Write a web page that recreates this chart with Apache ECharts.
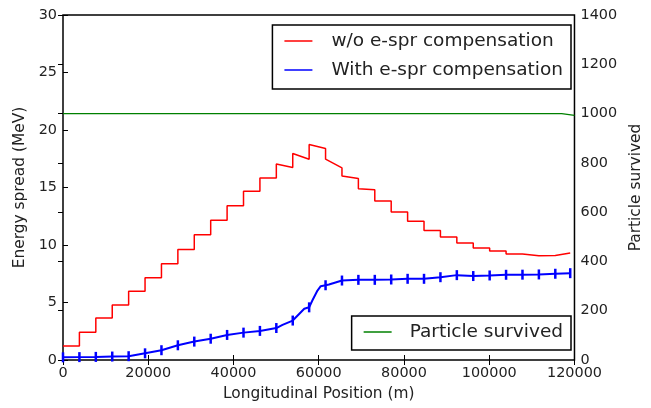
<!DOCTYPE html>
<html>
<head>
<meta charset="utf-8">
<script src="https://cdn.jsdelivr.net/npm/echarts@6/dist/echarts.min.js"></script>
<style>
  html, body { margin: 0; padding: 0; background: #fff; }
  #chart { width: 651px; height: 408px; }
</style>
</head>
<body>
<div id="chart"></div>
<script>
// step edges along the beamline (m)
const stepEdges = [0, 3850, 7700, 11550, 15400, 19250, 23100, 26950, 30800, 34650,
  38500, 42350, 46200, 50050, 53900, 57750, 61600, 65450, 69300, 73150,
  77000, 80850, 84700, 88550, 92400, 96250, 100100, 103950, 107800, 111650,
  115500, 119000];

// w/o compensation: level at start and end of each step (MeV)
const redStart = [1.22, 2.41, 3.65, 4.78, 5.98, 7.15, 8.37, 9.6, 10.9, 12.15,
  13.42, 14.67, 15.83, 17.05, 17.96, 18.74, 17.46, 16.0, 14.9, 13.83,
  12.87, 12.06, 11.27, 10.69, 10.17, 9.73, 9.47, 9.21, 9.07, 9.09, 9.18];
const redEnd = [1.22, 2.41, 3.65, 4.78, 5.98, 7.15, 8.37, 9.6, 10.9, 12.15,
  13.42, 14.67, 15.83, 16.74, 17.46, 18.4, 16.7, 15.78, 14.8, 13.83,
  12.87, 12.06, 11.27, 10.69, 10.17, 9.73, 9.47, 9.21, 9.07, 9.09, 9.3];

// with compensation (MeV)
const blueX = [0, 3850, 7700, 11550, 15400, 19250, 23100, 26950, 30800, 34650,
  38500, 42350, 46200, 50050, 51500, 53900, 55400, 56600, 57750, 58500,
  59700, 60470, 61600, 62400, 64700, 65450, 69300, 73150, 77000, 80850,
  84700, 88550, 92400, 96250, 100100, 103950, 107800, 111650, 115500, 119000];
const blueY = [0.23, 0.25, 0.27, 0.3, 0.33, 0.58, 0.85, 1.28, 1.6, 1.85,
  2.18, 2.38, 2.53, 2.78, 3.05, 3.43, 4.0, 4.45, 4.58, 5.17,
  6.04, 6.42, 6.5, 6.56, 6.83, 6.91, 6.97, 6.97, 7.0, 7.06,
  7.06, 7.2, 7.38, 7.3, 7.35, 7.41, 7.42, 7.44, 7.5, 7.55];

// particles survived
const greenX = [0, 117000, 120000];
const greenY = [1000, 1000, 993];

const xTicks = { min: 0, max: 120000, interval: 20000 };
const leftTicks = { min: 0, max: 30, interval: 5 };
const rightTicks = { min: 0, max: 1400, interval: 200 };

const FONT = 'DejaVu Sans';
const TXT = '#222';

const redData = [];
redStart.forEach((v, k) => {
  redData.push([stepEdges[k], v]);
  redData.push([stepEdges[k + 1], redEnd[k]]);
});

const blueData = blueX.map((x, i) => {
  const item = { value: [x, blueY[i]] };
  if (stepEdges.indexOf(x) < 0) item.symbol = 'none';
  return item;
});

const greenData = greenX.map((x, i) => [x, greenY[i]]);

const chart = echarts.init(document.getElementById('chart'), null, { renderer: 'canvas' });

const plain = v => String(v);
const tickLabel = { fontFamily: FONT, fontSize: 14.4, color: TXT, formatter: plain };
const nameStyle = { fontFamily: FONT, fontSize: 15.4, color: TXT };
const ticksIn = { show: true, inside: true, length: 5, lineStyle: { color: '#000' } };

chart.setOption({
  animation: false,
  backgroundColor: '#fff',
  grid: { left: 63, right: 72, top: 15, bottom: 48, show: true, borderColor: '#000', borderWidth: 1.5 },
  xAxis: [
    {
      type: 'value', ...xTicks, position: 'bottom',
      name: 'Longitudinal Position (m)', nameLocation: 'middle', nameGap: 26, nameTextStyle: nameStyle,
      axisLine: { show: false }, axisTick: ticksIn,
      axisLabel: { ...tickLabel, margin: 6 },
      splitLine: { show: false }
    },
    {
      type: 'value', ...xTicks, position: 'top',
      axisLine: { show: false }, axisTick: ticksIn,
      axisLabel: { show: false },
      splitLine: { show: false }
    }
  ],
  yAxis: [
    {
      type: 'value', ...leftTicks, position: 'left',
      name: 'Energy spread (MeV)', nameLocation: 'middle', nameGap: 33, nameRotate: 90, nameTextStyle: nameStyle,
      axisLine: { show: false }, axisTick: ticksIn,
      axisLabel: { ...tickLabel, margin: 6 },
      splitLine: { show: false }
    },
    {
      type: 'value', ...rightTicks, position: 'right',
      name: 'Particle survived', nameLocation: 'middle', nameGap: 48, nameRotate: 90, nameTextStyle: nameStyle,
      axisLine: { show: false }, axisTick: ticksIn,
      axisLabel: { ...tickLabel, margin: 6 },
      splitLine: { show: false }
    }
  ],
  legend: [
    {
      data: ['w/o e-spr compensation', 'With e-spr compensation'],
      orient: 'vertical', right: 80, top: 25,
      padding: [6, 8, 9, 12], itemGap: 9,
      itemWidth: 28, itemHeight: 1.5, icon: 'rect',
      borderColor: '#000', borderWidth: 1.5, borderRadius: 0, backgroundColor: '#fff',
      textStyle: { fontFamily: FONT, fontSize: 18.5, color: TXT, lineHeight: 20, padding: [0, 0, 0, 14] }
    },
    {
      data: ['Particle survived'],
      orient: 'vertical', right: 80, top: 316,
      padding: [6, 8, 8, 12],
      itemWidth: 28, itemHeight: 1.5, icon: 'rect',
      borderColor: '#000', borderWidth: 1.5, borderRadius: 0, backgroundColor: '#fff',
      textStyle: { fontFamily: FONT, fontSize: 18.5, color: TXT, lineHeight: 20, padding: [0, 0, 0, 13] }
    }
  ],
  series: [
    {
      name: 'w/o e-spr compensation', type: 'line', data: redData,
      showSymbol: false, symbol: 'none',
      lineStyle: { color: '#ff0000', width: 1.5 }, itemStyle: { color: '#ff0000' }
    },
    {
      name: 'With e-spr compensation', type: 'line', data: blueData,
      showAllSymbol: true, symbol: 'rect', symbolSize: [2.5, 10],
      lineStyle: { color: '#0000ff', width: 2 }, itemStyle: { color: '#0000ff' }
    },
    {
      name: 'Particle survived', type: 'line', yAxisIndex: 1, data: greenData,
      showSymbol: false, symbol: 'none',
      lineStyle: { color: '#008000', width: 1.2 }, itemStyle: { color: '#008000' }
    }
  ]
});
</script>
</body>
</html>
